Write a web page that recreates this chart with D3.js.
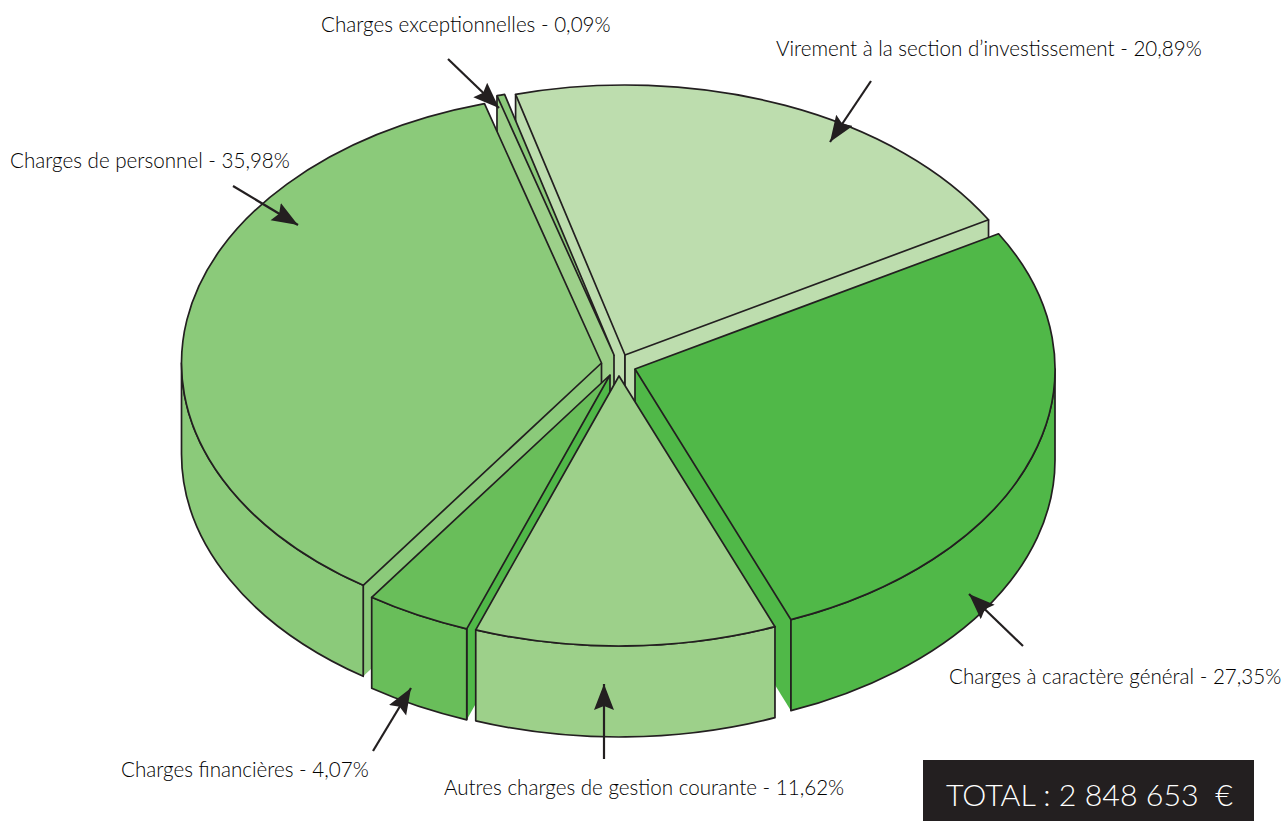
<!DOCTYPE html>
<html lang="fr">

<head>
  <meta charset="utf-8">
  <title>Charges de fonctionnement</title>
  <script src="https://d3js.org/d3.v7.min.js"></script>
  <style>
    html, body { margin: 0; padding: 0; background: #fff; }
    svg { display: block; }
    text { font-family: Lato, "Open Sans", sans-serif; fill: #000; }
  </style>
</head>

<body>
  <script>
    // data, clockwise from the back of the pie
    const labels = [
      "Virement à la section d’investissement",
      "Charges à caractère général",
      "Autres charges de gestion courante",
      "Charges financières",
      "Charges de personnel",
      "Charges exceptionnelles"
    ];
    const shares = [20.89, 27.35, 11.62, 4.07, 35.98, 0.09];
    const topColors = ["#bdddae", "#50b848", "#9dd08a", "#69be5a", "#8bca7a", "#8bca7a"];
    const radialColors = ["#bdddae", "#50b848", "#9dd08a", "#50b848", "#8bca7a", "#9dd08a"];
    const totalText = "TOTAL : 2 848 653\u00a0\u00a0€";

    //config
    const width = 1288, height = 821;
    const centerX = 618, centerY = 365;
    const radiusX = 420, radiusY = 270, depth = 91;
    const firstAngle = -15.1 * Math.PI / 180;
    const minShare = 0.3; // the 0,09% slice is drawn wider than its value
    const sliceOffsets = [[7, -10], [17, 4], [1, 11], [-8, 10], [-16.5, -2], [-4, -10]];
    const paintOrder = [0, 5, 4, 1, 3, 2];

    // label position and arrow for each slice
    const labelPos = [[776, 56], [949, 684], [444, 795], [121, 777], [10, 168], [321, 32]];
    const labelFontSize = 20.6;
    const arrows = [
      [[871, 81], [830, 142]],
      [[1023, 646], [969, 594]],
      [[604, 759], [604, 684]],
      [[373, 751], [411, 688]],
      [[233, 186], [298, 225]],
      [[448, 59], [499, 108]]
    ];

    const svg = d3.select("body").append("svg")
      .attr("width", width).attr("height", height);

    svg.append("defs").append("marker")
      .attr("id", "head")
      .attr("markerUnits", "userSpaceOnUse")
      .attr("markerWidth", 28).attr("markerHeight", 22)
      .attr("refX", 26).attr("refY", 10)
      .attr("orient", "auto")
      .append("path")
      .attr("d", "M0,0 L26,10 L0,20 L4,10 Z")
      .attr("fill", "#231f20");

    // ellipse scales: unit circle to pixels
    const xScale = d3.scaleLinear().domain([-1, 1]).range([-radiusX, radiusX]);
    const yScale = d3.scaleLinear().domain([-1, 1]).range([-radiusY, radiusY]);

    const pie = d3.pie()
      .value(d => Math.max(d, minShare))
      .sort(null)
      .startAngle(firstAngle)
      .endAngle(firstAngle + 2 * Math.PI);
    const arcs = pie(shares);

    const rim = (i, a) => {
      const o = sliceOffsets[i];
      return [centerX + o[0] + xScale(Math.sin(a)), centerY + o[1] + yScale(-Math.cos(a))];
    };
    const apex = i => [centerX + sliceOffsets[i][0], centerY + sliceOffsets[i][1]];

    const arcTo = (p, a0, a1, sweep) => {
      const large = Math.abs(a1 - a0) > Math.PI ? 1 : 0;
      return `A${radiusX},${radiusY} 0 ${large} ${sweep} ${p[0]},${p[1]}`;
    };
    const down = p => [p[0], p[1] + depth];

    const group = svg.append("g")
      .attr("stroke", "#231f20")
      .attr("stroke-width", 1.7)
      .attr("stroke-linejoin", "round");

    // a radial wall: fill without the bottom edge stroke
    function radialWall(g, i, angle) {
      const c = apex(i), r = rim(i, angle);
      const cb = down(c), rb = down(r);
      g.append("path")
        .attr("d", `M${c} L${r} L${rb} L${cb} Z`)
        .attr("fill", radialColors[i]).attr("stroke", "none");
      g.append("path")
        .attr("d", `M${cb} L${c} M${r} L${rb}`)
        .attr("fill", "none");
    }

    paintOrder.forEach(i => {
      const d = arcs[i];
      const g = group.append("g");

      // side walls facing the viewer
      if (Math.sin(d.startAngle) < 0) radialWall(g, i, d.startAngle);
      if (Math.sin(d.endAngle) > 0) radialWall(g, i, d.endAngle);

      // outer wall, front half of the ellipse only
      const a0 = Math.max(d.startAngle, Math.PI / 2);
      const a1 = Math.min(d.endAngle, 3 * Math.PI / 2);
      if (a1 > a0) {
        const p0 = rim(i, a0), p1 = rim(i, a1);
        const b0 = down(p0), b1 = down(p1);
        g.append("path")
          .attr("d", `M${p0} ${arcTo(p1, a0, a1, 1)} L${b1} ${arcTo(b0, a1, a0, 0)} Z`)
          .attr("fill", topColors[i]);
      }

      // top face
      const s = rim(i, d.startAngle), e = rim(i, d.endAngle);
      g.append("path")
        .attr("d", `M${apex(i)} L${s} ${arcTo(e, d.startAngle, d.endAngle, 1)} Z`)
        .attr("fill", topColors[i]);
    });

    // labels
    svg.append("g").selectAll("text")
      .data(labels)
      .join("text")
      .attr("x", (d, i) => labelPos[i][0])
      .attr("y", (d, i) => labelPos[i][1])
      .attr("font-size", labelFontSize)
      .attr("font-weight", 300)
      .text((d, i) => `${d} - ${shares[i].toFixed(2).replace(".", ",")}%`);

    // arrows
    svg.append("g").selectAll("line")
      .data(arrows)
      .join("line")
      .attr("x1", d => d[0][0]).attr("y1", d => d[0][1])
      .attr("x2", d => d[1][0]).attr("y2", d => d[1][1])
      .attr("stroke", "#231f20").attr("stroke-width", 2.2)
      .attr("marker-end", "url(#head)");

    // total box
    svg.append("rect")
      .attr("x", 923).attr("y", 760)
      .attr("width", 331).attr("height", 61)
      .attr("fill", "#231f20");
    svg.append("text")
      .attr("x", 946).attr("y", 806)
      .attr("font-size", 30.4).attr("font-weight", 300)
      .style("fill", "#fff")
      .text(totalText);
  </script>
</body>

</html>
